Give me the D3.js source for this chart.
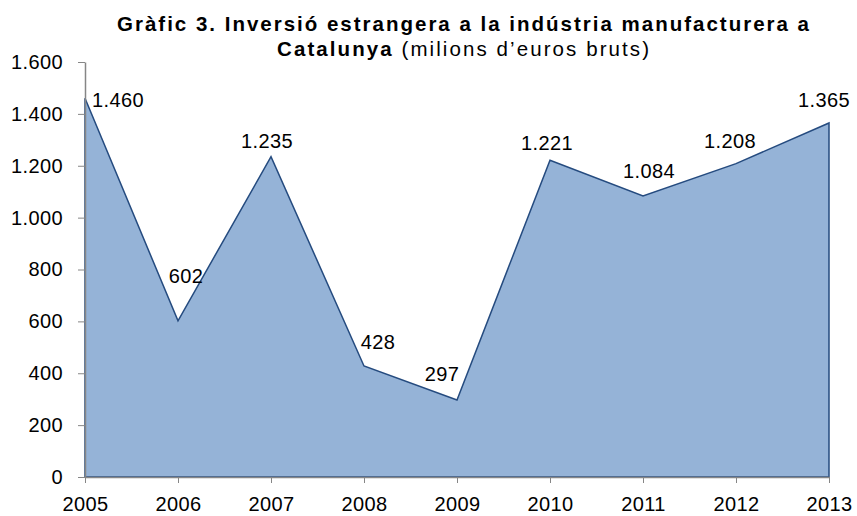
<!DOCTYPE html>
<html lang="ca">
<head>
  <meta charset="utf-8">
  <title>Gràfic 3</title>
  <script src="https://d3js.org/d3.v7.min.js"></script>
  <style>
    body { margin: 0; background: #fff; }
    svg text { font-family: "Liberation Sans", Arial, sans-serif; fill: #000; }
    .axis path, .axis line { stroke: #868686; }
    .axis text { font-size: 20px; letter-spacing: 0.4px; }
    .lbl { font-size: 20px; letter-spacing: 0.4px; }
  </style>
</head>
<body>
  <div id="chart"></div>
  <script>
    "use strict"

    // dades
    var anys = ["2005", "2006", "2007", "2008", "2009", "2010", "2011", "2012", "2013"];
    var inversio = [1460, 602, 1235, 428, 297, 1221, 1084, 1208, 1365];
    var ticksY = [0, 200, 400, 600, 800, 1000, 1200, 1400, 1600];
    // desplaçament de cada etiqueta respecte del punt
    var desplEtiq = [[33, 2], [8, -45], [-4, -16], [14, -24], [-15, -26], [-3, -17], [6, -25], [-6, -23], [-5, -23]];

    var amplada = 857, alcada = 516;
    var marge = {top: 62, right: 28, bottom: 39, left: 85};

    var cat = d3.formatLocale({decimal: ",", thousands: ".", grouping: [3], currency: ["", "€"]});
    var fmt = cat.format(",d");

    var svg = d3.select("#chart").append("svg")
      .attr("width", amplada)
      .attr("height", alcada);

    var x = d3.scalePoint()
      .domain(anys)
      .range([marge.left, amplada - marge.right]);

    var y = d3.scaleLinear()
      .domain([0, 1600])
      .range([alcada - marge.bottom, marge.top]);

    var dades = anys.map(function(a, i) { return {any: a, v: inversio[i], off: desplEtiq[i]}; });

    var area = d3.area()
      .x(function(d) { return x(d.any); })
      .y0(y(0))
      .y1(function(d) { return y(d.v); });

    svg.append("path")
      .datum(dades)
      .attr("d", area)
      .attr("fill", "#95B3D7")
      .attr("stroke", "#254B7F")
      .attr("stroke-width", 1.5)
      .attr("stroke-linejoin", "miter");

    svg.append("g")
      .attr("class", "axis")
      .attr("transform", "translate(" + marge.left + ",0)")
      .call(d3.axisLeft(y).tickValues(ticksY).tickFormat(fmt).tickSize(7).tickSizeOuter(0).tickPadding(15));

    svg.append("g")
      .attr("class", "axis")
      .attr("transform", "translate(0," + (alcada - marge.bottom) + ")")
      .call(d3.axisBottom(x).tickSize(6).tickSizeOuter(0).tickPadding(14));

    svg.selectAll(".axis .domain").attr("stroke-width", 1.5);

    svg.selectAll(".lbl")
      .data(dades)
      .enter().append("text")
        .attr("class", "lbl")
        .attr("text-anchor", "middle")
        .attr("x", function(d) { return x(d.any) + d.off[0]; })
        .attr("y", function(d) { return y(d.v) + d.off[1]; })
        .attr("dy", "0.35em")
        .text(function(d) { return fmt(d.v); });

    // títol
    svg.append("text")
      .attr("x", 463).attr("y", 31)
      .attr("text-anchor", "middle")
      .style("font-size", "20.5px")
      .style("font-weight", "bold")
      .attr("textLength", 692)
      .attr("lengthAdjust", "spacing")
      .text("Gràfic 3. Inversió estrangera a la indústria manufacturera a");

    var t2 = svg.append("text")
      .attr("x", 463).attr("y", 56)
      .attr("text-anchor", "middle")
      .style("font-size", "20.5px")
      .attr("textLength", 372)
      .attr("lengthAdjust", "spacing");
    t2.append("tspan").style("font-weight", "bold").text("Catalunya");
    t2.append("tspan").text(" (milions d’euros bruts)");
  </script>
</body>
</html>
